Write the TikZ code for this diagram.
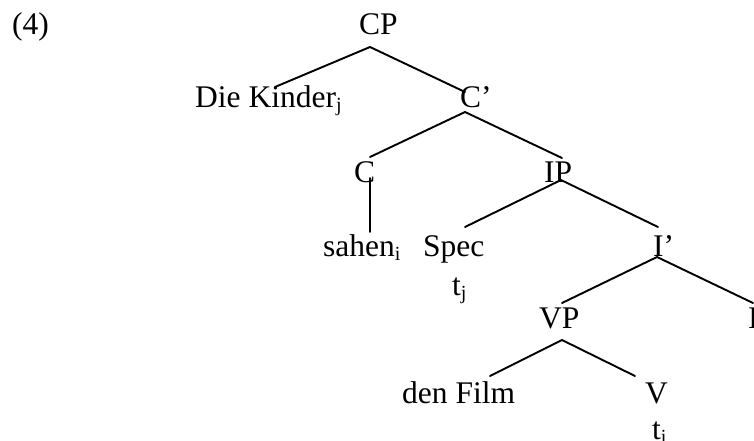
\documentclass[tikz,border=0pt]{standalone}
\usepackage{fontspec}
\setmainfont{Liberation Serif}
% lowered index letter (trace / co-indexation subscript)
\newcommand\lowidx[1]{\raisebox{-4pt}{\fontsize{20}{20}\selectfont #1}}
\begin{document}
\begin{tikzpicture}[x=1pt,y=-1pt,
  lbl/.style={anchor=base west, inner sep=0pt, font=\fontsize{31.5}{37}\selectfont},
  branch/.style={line width=1.9pt, line cap=round}]
\useasboundingbox (0,0) rectangle (754,441);

% example number
\node[lbl] (ex) at (12,35) {(4)};

% tree labels
\node[lbl] (cp)     at (359,35)  {CP};
\node[lbl] (kinder) at (195,108) {Die Kinder\lowidx{j}};
\node[lbl] (cbar)   at (460,108) {C’};
\node[lbl] (c)      at (354,182) {C};
\node[lbl] (ip)     at (544,182) {IP};
\node[lbl] (sahen)  at (323,256) {sahen\lowidx{i}};
\node[lbl] (spec)   at (423,256) {Spec};
\node[lbl] (tj)     at (452,295) {t\lowidx{j}};
\node[lbl] (ibar)   at (653,256) {I’};
\node[lbl] (vp)     at (539,328) {VP};
\node[lbl] (infl)   at (748,328) {I};
\node[lbl] (film)   at (402,403) {den Film};
\node[lbl] (v)      at (645,403) {V};
\node[lbl] (ti)     at (652,439) {t\lowidx{i}};

% branch attachment points
\coordinate (cp-dn)     at (370,47);
\coordinate (kinder-up) at (275,87);
\coordinate (cbar-up)   at (465,92);
\coordinate (cbar-dn)   at (465,112);
\coordinate (c-up)      at (370,157);
\coordinate (ip-up)     at (562,158);
\coordinate (c-dn)      at (370,178);
\coordinate (sahen-up)  at (370,232);
\coordinate (ip-dn)     at (561,180);
\coordinate (spec-up)   at (465,227);
\coordinate (ibar-up)   at (658,227);
\coordinate (ibar-dn)   at (657,257);
\coordinate (vp-up)     at (562,303);
\coordinate (infl-up)   at (753,303);
\coordinate (vp-dn)     at (562,340);
\coordinate (film-up)   at (490,376);
\coordinate (v-up)      at (635,376);

% branches
\draw[branch] (kinder-up) -- (cp-dn) -- (cbar-up);
\draw[branch] (c-up) -- (cbar-dn) -- (ip-up);
\draw[branch] (c-dn) -- (sahen-up);
\draw[branch] (spec-up) -- (ip-dn) -- (ibar-up);
\draw[branch] (vp-up) -- (ibar-dn) -- (infl-up);
\draw[branch] (film-up) -- (vp-dn) -- (v-up);
\end{tikzpicture}
\end{document}
